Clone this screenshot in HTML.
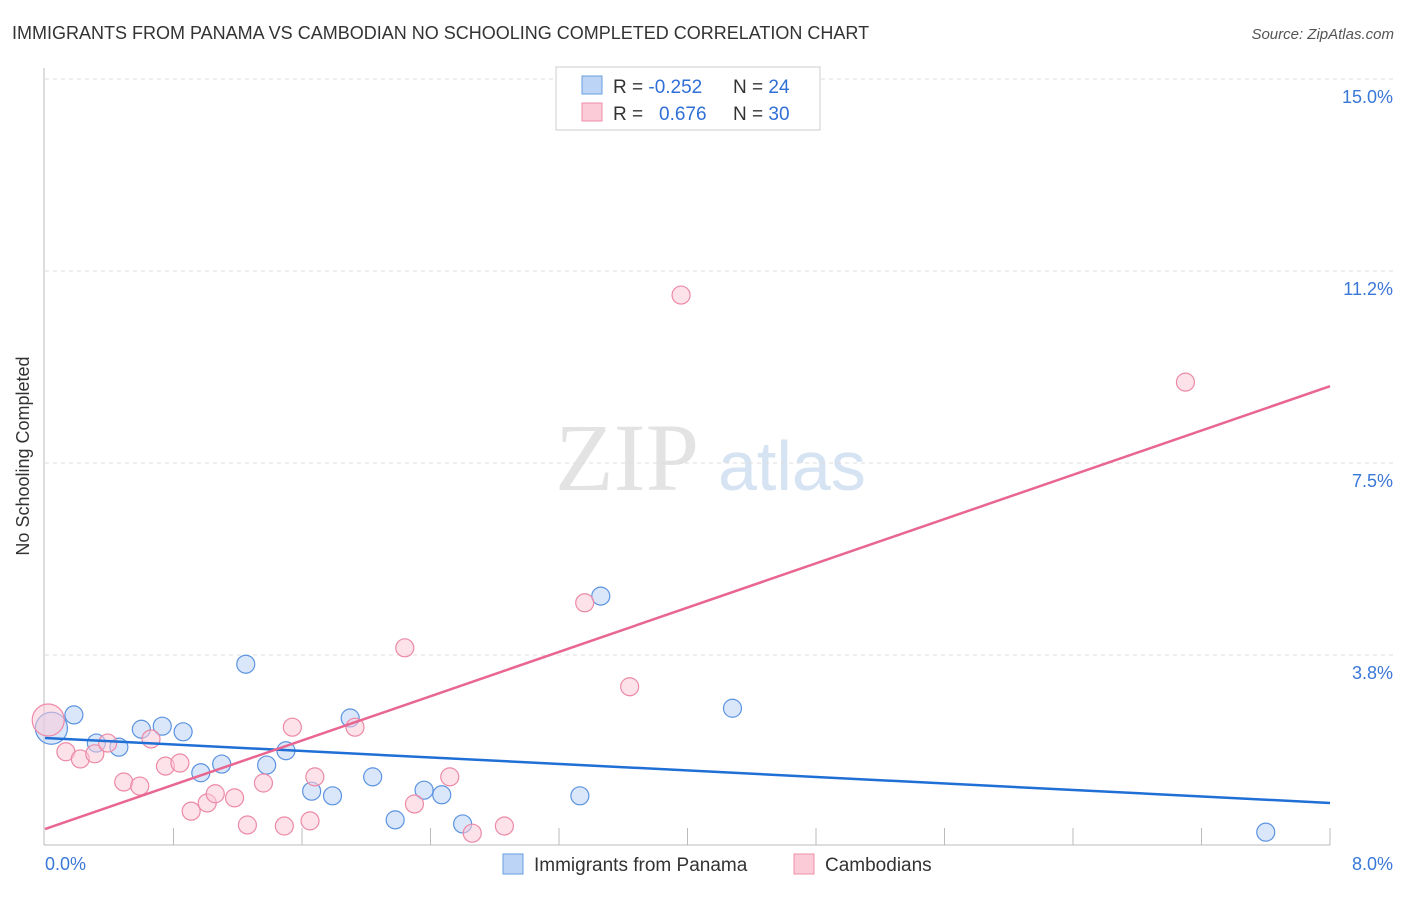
<!DOCTYPE html>
<html><head><meta charset="utf-8"><style>
body{margin:0;background:#fff;font-family:"Liberation Sans",sans-serif}
</style></head><body>
<svg width="1406" height="892" xmlns="http://www.w3.org/2000/svg" font-family="Liberation Sans, sans-serif">
<text x="12" y="39" font-size="18" fill="#333">IMMIGRANTS FROM PANAMA VS CAMBODIAN NO SCHOOLING COMPLETED CORRELATION CHART</text>
<text x="1394" y="39" font-size="15" fill="#555" font-style="italic" text-anchor="end">Source: ZipAtlas.com</text>
<text x="29" y="456" font-size="18" fill="#333" text-anchor="middle" transform="rotate(-90 29 456)">No Schooling Completed</text>
<g><text x="555" y="490" font-size="96" font-family="Liberation Serif, serif" fill="#e3e3e3">ZIP</text><text x="718" y="490" font-size="70" fill="#d6e3f3">atlas</text></g>
<g id="grid"></g>
<g id="axes"></g>
<g id="marks"></g>
<g>
<rect x="556" y="67" width="264" height="63" fill="#fff" stroke="#ccc"/>
<rect x="582" y="76" width="20" height="18" fill="#bcd4f6" stroke="#6a9ee0"/>
<rect x="582" y="103" width="20" height="18" fill="#fbcbd8" stroke="#ee8ea9"/>
<text x="613" y="93" font-size="19" fill="#333">R = <tspan fill="#2f6fd6">-0.252</tspan><tspan x="733">N = </tspan><tspan fill="#2f6fd6">24</tspan></text>
<text x="613" y="120" font-size="19" fill="#333">R = <tspan x="659" fill="#2f6fd6">0.676</tspan><tspan x="733">N = </tspan><tspan fill="#2f6fd6">30</tspan></text>
</g>
<g>
<rect x="503" y="854" width="20" height="20" fill="#bcd4f6" stroke="#6a9ee0"/>
<text x="534" y="871" font-size="19" fill="#333">Immigrants from Panama</text>
<rect x="794" y="854" width="20" height="20" fill="#fbcbd8" stroke="#ee8ea9"/>
<text x="825" y="871" font-size="19" fill="#333">Cambodians</text>
</g>
</svg>
<script>
const yTicks=[15.0,11.2,7.5,3.8];
const yTickLabels=["15.0%","11.2%","7.5%","3.8%"];
const xTickVals=[0.8,1.6,2.4,3.2,4.0,4.8,5.6,6.4,7.2,8.0];
const panamaX=[0.04,0.18,0.32,0.46,0.60,0.73,0.86,0.97,1.10,1.25,1.38,1.50,1.66,1.79,1.90,2.04,2.18,2.36,2.47,2.60,3.33,3.46,4.28,7.60];
const panamaY=[2.32,2.58,2.03,1.95,2.30,2.36,2.25,1.45,1.62,3.57,1.60,1.88,1.09,1.00,2.52,1.37,0.53,1.11,1.02,0.45,1.00,4.90,2.71,0.29];
const cambX=[0.02,0.13,0.22,0.31,0.39,0.49,0.59,0.66,0.75,0.84,0.91,1.01,1.06,1.18,1.26,1.36,1.49,1.54,1.65,1.68,1.93,2.24,2.30,2.52,2.66,2.86,3.36,3.64,3.96,7.10];
const cambY=[2.48,1.86,1.72,1.82,2.03,1.27,1.19,2.11,1.58,1.64,0.70,0.86,1.04,0.96,0.43,1.25,0.41,2.34,0.51,1.37,2.34,3.89,0.84,1.37,0.27,0.41,4.77,3.13,10.78,9.08];
const panamaTrend=[2.13,0.86];
const cambTrend=[0.35,9.00];
const NS="http://www.w3.org/2000/svg";
const X=v=>45+v*160.625;
const Y=v=>847-v*51.2;
function mk(p,t,a){const e=document.createElementNS(NS,t);for(const k in a)e.setAttribute(k,a[k]);p.appendChild(e);return e;}
const grid=document.getElementById('grid'),axes=document.getElementById('axes'),marks=document.getElementById('marks');
yTicks.forEach((v,i)=>{
 const yy=Y(v===3.8?3.75:v===11.2?11.25:v);
 const l=mk(grid,'line',{x1:45,x2:1395,y1:yy,y2:yy,stroke:'#ddd','stroke-dasharray':'4,4'});
 
 
 const t=mk(axes,'text',{x:1393,y:yy+24,'font-size':18,fill:'#3a78d8','text-anchor':'end'});
 t.textContent=yTickLabels[i];
 
 
});
mk(axes,'line',{x1:44,x2:44,y1:68,y2:845,stroke:'#bbb'});
mk(axes,'line',{x1:44,x2:1330,y1:845,y2:845,stroke:'#bbb'});
xTickVals.forEach(v=>{const l=mk(axes,'line',{x1:X(v),x2:X(v),y1:828,y2:845,stroke:'#bbb'});
 
 });
const t0=mk(axes,'text',{x:45,y:870,'font-size':18,fill:'#3a78d8'});t0.textContent='0.0%';


const t1=mk(axes,'text',{x:1393,y:870,'font-size':18,fill:'#3a78d8','text-anchor':'end'});t1.textContent='8.0%';


function pts(xs,ys,fill,stroke,name){xs.forEach((x,i)=>{
 const r=i===0?16:9;
 const c=mk(marks,'circle',{cx:X(x),cy:Y(ys[i]),r:r,fill:fill,stroke:stroke,'stroke-width':1.2,'fill-opacity':0.55});
 
 
});}
pts(panamaX,panamaY,'#bcd4f6','#5b93e0','point-panama');
pts(cambX,cambY,'#fbcbd8','#ec89a6','point-cambodian');
const l1=mk(marks,'line',{x1:X(0),y1:Y(panamaTrend[0]),x2:X(8),y2:Y(panamaTrend[1]),stroke:'#1f6fd6','stroke-width':2.5});


const l2=mk(marks,'line',{x1:X(0),y1:Y(cambTrend[0]),x2:X(8),y2:Y(cambTrend[1]),stroke:'#e8668f','stroke-width':2.5});


</script>
</body></html>
